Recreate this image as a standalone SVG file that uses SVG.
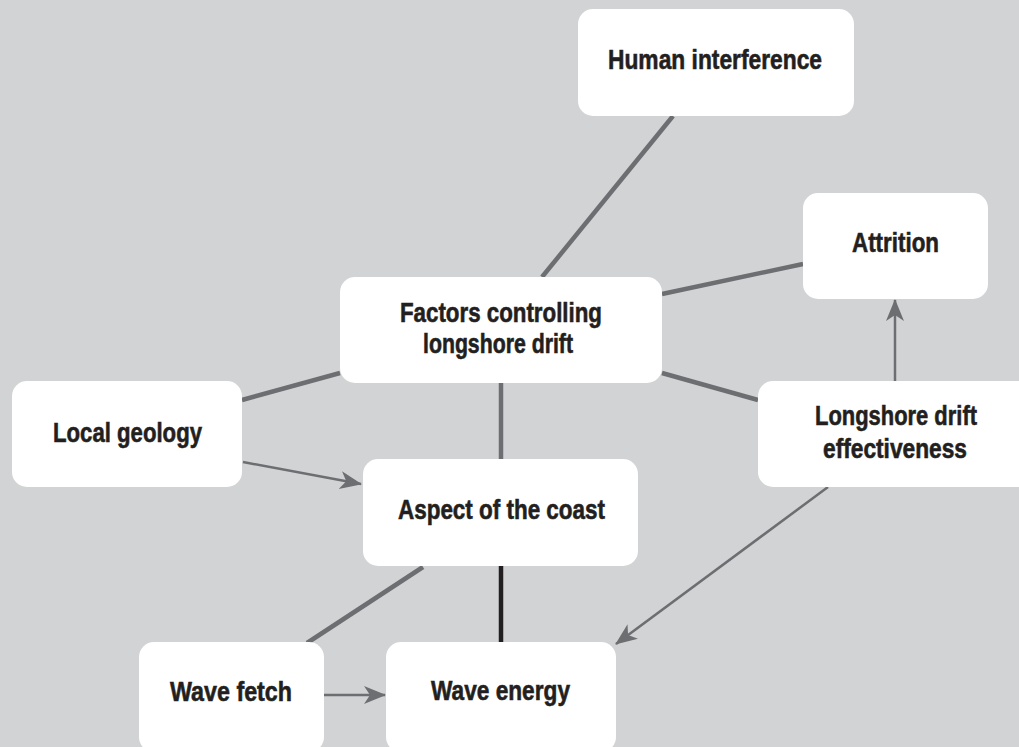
<svg xmlns="http://www.w3.org/2000/svg" width="1019" height="747" viewBox="0 0 1019 747">
<defs>
<style>
.bg{fill:#d1d3d4}
.box{fill:#ffffff}
.lbl{font-family:"Liberation Sans Narrow","Liberation Sans",Arial,sans-serif;font-weight:bold;font-size:28px;fill:#231f20;stroke:#231f20;stroke-width:0.6;text-anchor:middle}
.thick{stroke:#6d6e71;stroke-width:4.5;fill:none}
.dark{stroke:#231f20;stroke-width:4.5;fill:none}
.arr{stroke:#6d6e71;stroke-width:2.5;fill:none;marker-end:url(#ah)}
</style>
<marker id="ah" markerUnits="userSpaceOnUse" markerWidth="24" markerHeight="20" refX="21" refY="9" orient="auto">
<path d="M0,0 L22,9 L0,18 L6,9 z" fill="#6d6e71"/>
</marker>
</defs>
<rect class="bg" x="0" y="0" width="1019" height="747"/>
<g id="connectors">
<line class="thick" x1="673" y1="116" x2="542" y2="277"/>
<line class="thick" x1="662" y1="294" x2="803" y2="264"/>
<line class="thick" x1="662" y1="373" x2="758" y2="400"/>
<line class="thick" x1="242" y1="400" x2="340" y2="373"/>
<line class="thick" x1="501" y1="383" x2="501" y2="459"/>
<line class="dark" x1="501" y1="566" x2="501" y2="642"/>
<line class="thick" x1="423" y1="567" x2="307" y2="643"/>
<line class="arr" x1="243" y1="462" x2="361" y2="484"/>
<line class="arr" x1="324" y1="695" x2="385" y2="695"/>
<line class="arr" x1="828" y1="487" x2="616" y2="644"/>
<line class="arr" x1="895" y1="381" x2="895" y2="300"/>
</g>
<g id="human-interference">
<rect class="box" x="578" y="9" width="276" height="107" rx="15"/>
<text class="lbl" x="715" y="69" textLength="214" lengthAdjust="spacingAndGlyphs">Human interference</text>
</g>
<g id="attrition">
<rect class="box" x="803" y="193" width="185" height="106" rx="15"/>
<text class="lbl" x="895.5" y="252" textLength="87" lengthAdjust="spacingAndGlyphs">Attrition</text>
</g>
<g id="factors">
<rect class="box" x="340" y="277" width="322" height="106" rx="15"/>
<text class="lbl" x="501" y="322" textLength="202" lengthAdjust="spacingAndGlyphs">Factors controlling</text>
<text class="lbl" x="498" y="353" textLength="150" lengthAdjust="spacingAndGlyphs">longshore drift</text>
</g>
<g id="local-geology">
<rect class="box" x="12" y="381" width="230" height="106" rx="15"/>
<text class="lbl" x="127.5" y="442" textLength="149" lengthAdjust="spacingAndGlyphs">Local geology</text>
</g>
<g id="longshore-effectiveness">
<path class="box" d="M773,381 H1019 V487 H773 A15,15 0 0 1 758,472 V396 A15,15 0 0 1 773,381 Z"/>
<text class="lbl" x="896" y="425" textLength="162" lengthAdjust="spacingAndGlyphs">Longshore drift</text>
<text class="lbl" x="895" y="458" textLength="144" lengthAdjust="spacingAndGlyphs">effectiveness</text>
</g>
<g id="aspect">
<rect class="box" x="363" y="459" width="275" height="107" rx="15"/>
<text class="lbl" x="501.5" y="519" textLength="207" lengthAdjust="spacingAndGlyphs">Aspect of the coast</text>
</g>
<g id="wave-fetch">
<rect class="box" x="139" y="642" width="185" height="110" rx="15"/>
<text class="lbl" x="231" y="701" textLength="122" lengthAdjust="spacingAndGlyphs">Wave fetch</text>
</g>
<g id="wave-energy">
<rect class="box" x="386" y="642" width="230" height="110" rx="15"/>
<text class="lbl" x="500.5" y="700" textLength="139" lengthAdjust="spacingAndGlyphs">Wave energy</text>
</g>
</svg>
